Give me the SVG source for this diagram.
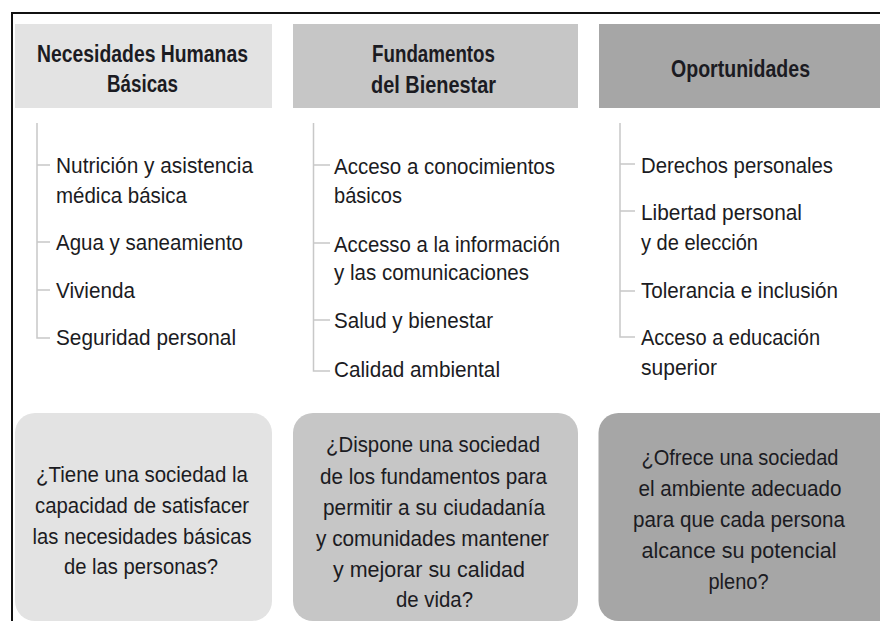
<svg xmlns="http://www.w3.org/2000/svg" width="880" height="621" viewBox="0 0 880 621">
<style>
.hd{font-family:"Liberation Sans Narrow","Liberation Sans",Arial,sans-serif;font-weight:bold;font-size:23px;fill:#1b1b22;text-anchor:middle}
.it{font-family:"Liberation Sans Narrow","Liberation Sans",Arial,sans-serif;font-size:22px;fill:#1b1b22}
.q{font-family:"Liberation Sans Narrow","Liberation Sans",Arial,sans-serif;font-size:22px;fill:#1b1b22;text-anchor:middle}
.br{fill:none;stroke:#c8c8c8;stroke-width:1.5}
.c1{fill:#e3e3e3}.c2{fill:#c6c6c6}.c3{fill:#a6a6a6}
</style>
<rect x="0" y="0" width="880" height="621" fill="#ffffff"/>
<path d="M12 621 V13 H880" fill="none" stroke="#111" stroke-width="2"/>

<g id="header-necesidades">
<rect class="c1" x="15" y="24" width="257" height="84"/>
<text class="hd" x="142.5" y="62" textLength="211" lengthAdjust="spacingAndGlyphs">Necesidades Humanas</text>
<text class="hd" x="142.5" y="92" textLength="71" lengthAdjust="spacingAndGlyphs">Básicas</text>
</g>
<g id="header-fundamentos">
<rect class="c2" x="293" y="24" width="285" height="84"/>
<text class="hd" x="433.5" y="62" textLength="123" lengthAdjust="spacingAndGlyphs">Fundamentos</text>
<text class="hd" x="433.5" y="92.5" textLength="125" lengthAdjust="spacingAndGlyphs">del Bienestar</text>
</g>
<g id="header-oportunidades">
<rect class="c3" x="599" y="24" width="290" height="84"/>
<text class="hd" x="740.5" y="77" textLength="139" lengthAdjust="spacingAndGlyphs">Oportunidades</text>
</g>

<g id="connectors">
<path class="br" d="M37 123 V338 H50 M37 165 H50 M37 242 H50 M37 290 H50"/>
<path class="br" d="M313.5 123 V371 H330 M313.5 165 H330 M313.5 243 H330 M313.5 320 H330"/>
<path class="br" d="M620 123 V337 H635 M620 164 H635 M620 211 H635 M620 291 H635"/>
</g>

<g id="list-necesidades">
<text class="it" x="56" y="173" textLength="197" lengthAdjust="spacingAndGlyphs">Nutrición y asistencia</text>
<text class="it" x="56" y="203" textLength="131" lengthAdjust="spacingAndGlyphs">médica básica</text>
<text class="it" x="56" y="250" textLength="187" lengthAdjust="spacingAndGlyphs">Agua y saneamiento</text>
<text class="it" x="56" y="298" textLength="79" lengthAdjust="spacingAndGlyphs">Vivienda</text>
<text class="it" x="56" y="345" textLength="180" lengthAdjust="spacingAndGlyphs">Seguridad personal</text>
</g>
<g id="list-fundamentos">
<text class="it" x="334" y="174" textLength="221" lengthAdjust="spacingAndGlyphs">Acceso a conocimientos</text>
<text class="it" x="334" y="203" textLength="68" lengthAdjust="spacingAndGlyphs">básicos</text>
<text class="it" x="334" y="251.5" textLength="226" lengthAdjust="spacingAndGlyphs">Accesso a la información</text>
<text class="it" x="334" y="280" textLength="195" lengthAdjust="spacingAndGlyphs">y las comunicaciones</text>
<text class="it" x="334" y="328" textLength="159" lengthAdjust="spacingAndGlyphs">Salud y bienestar</text>
<text class="it" x="334" y="377" textLength="166" lengthAdjust="spacingAndGlyphs">Calidad ambiental</text>
</g>
<g id="list-oportunidades">
<text class="it" x="641" y="173" textLength="192" lengthAdjust="spacingAndGlyphs">Derechos personales</text>
<text class="it" x="641" y="220" textLength="161" lengthAdjust="spacingAndGlyphs">Libertad personal</text>
<text class="it" x="641" y="250" textLength="117" lengthAdjust="spacingAndGlyphs">y de elección</text>
<text class="it" x="641" y="298" textLength="197" lengthAdjust="spacingAndGlyphs">Tolerancia e inclusión</text>
<text class="it" x="641" y="345" textLength="179" lengthAdjust="spacingAndGlyphs">Acceso a educación</text>
<text class="it" x="641" y="375" textLength="76" lengthAdjust="spacingAndGlyphs">superior</text>
</g>

<g id="question-necesidades">
<rect class="c1" x="15" y="413" width="257" height="208" rx="20"/>
<text class="q" x="142" y="482" textLength="212" lengthAdjust="spacingAndGlyphs">¿Tiene una sociedad la</text>
<text class="q" x="142" y="513" textLength="214" lengthAdjust="spacingAndGlyphs">capacidad de satisfacer</text>
<text class="q" x="142" y="543.5" textLength="219" lengthAdjust="spacingAndGlyphs">las necesidades básicas</text>
<text class="q" x="141" y="573.5" textLength="154" lengthAdjust="spacingAndGlyphs">de las personas?</text>
</g>
<g id="question-fundamentos">
<rect class="c2" x="293" y="413" width="285" height="208" rx="20"/>
<text class="q" x="433" y="452" textLength="214" lengthAdjust="spacingAndGlyphs">¿Dispone una sociedad</text>
<text class="q" x="433.5" y="484" textLength="227" lengthAdjust="spacingAndGlyphs">de los fundamentos para</text>
<text class="q" x="434" y="514.5" textLength="222" lengthAdjust="spacingAndGlyphs">permitir a su ciudadanía</text>
<text class="q" x="432.5" y="546" textLength="233" lengthAdjust="spacingAndGlyphs">y comunidades mantener</text>
<text class="q" x="429" y="577" textLength="192" lengthAdjust="spacingAndGlyphs">y mejorar su calidad</text>
<text class="q" x="434.5" y="607" textLength="77" lengthAdjust="spacingAndGlyphs">de vida?</text>
</g>
<g id="question-oportunidades">
<rect class="c3" x="598.5" y="413" width="300" height="208" rx="20"/>
<text class="q" x="740" y="465" textLength="197" lengthAdjust="spacingAndGlyphs">¿Ofrece una sociedad</text>
<text class="q" x="740" y="496" textLength="203" lengthAdjust="spacingAndGlyphs">el ambiente adecuado</text>
<text class="q" x="739" y="527" textLength="212" lengthAdjust="spacingAndGlyphs">para que cada persona</text>
<text class="q" x="739" y="557.5" textLength="195" lengthAdjust="spacingAndGlyphs">alcance su potencial</text>
<text class="q" x="738.5" y="588.5" textLength="60" lengthAdjust="spacingAndGlyphs">pleno?</text>
</g>
</svg>
